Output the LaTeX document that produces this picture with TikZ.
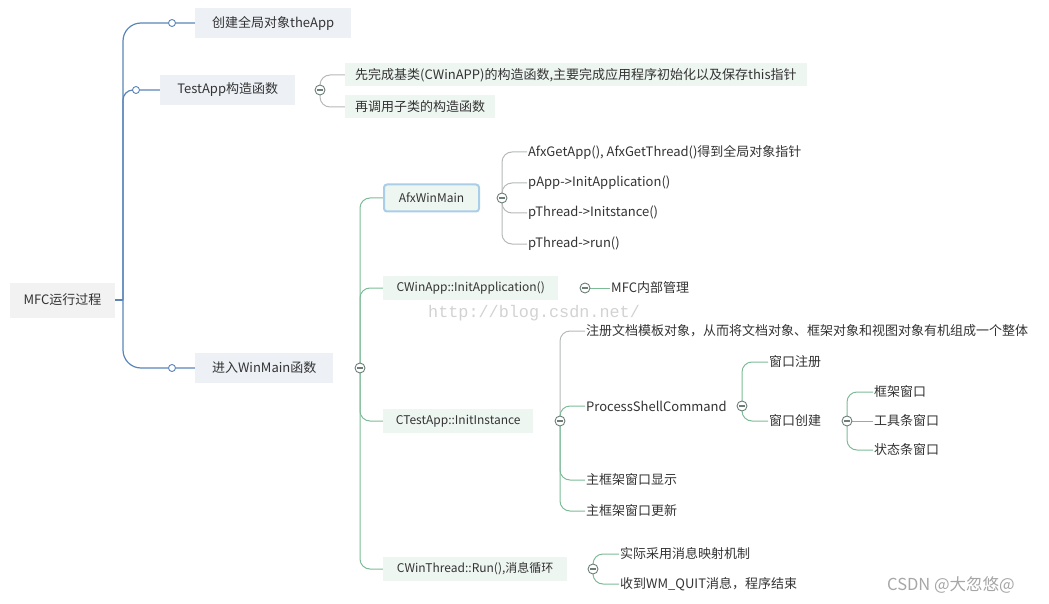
\documentclass[tikz,border=0pt]{standalone}
\usepackage{fontspec}
\setmainfont{Noto Sans CJK SC}
\newfontfamily\urlfont{Liberation Mono}
\usetikzlibrary{backgrounds}

\definecolor{trunkblue}{HTML}{5A85B8}
\definecolor{greenline}{HTML}{7DBB97}
\definecolor{grayline}{HTML}{B6B9B8}
\definecolor{folddark}{HTML}{6C7E76}
\definecolor{rootgray}{HTML}{F2F2F2}
\definecolor{topfill}{HTML}{EDF1F6}
\definecolor{subfill}{HTML}{EEF6F1}
\definecolor{afxborder}{HTML}{AACDE8}
\definecolor{textdark}{HTML}{333333}

\tikzset{
  txt/.style={text=textdark, font=\fontsize{13}{15}\selectfont},
  rootbox/.style={txt, fill=rootgray, minimum width=105pt, minimum height=35pt},
  topbox/.style={txt, anchor=west, fill=topfill, minimum height=30pt},
  subbox/.style={txt, anchor=west, fill=subfill, minimum height=24pt, font=\fontsize{12}{14}\selectfont},
  leaf/.style={txt, anchor=west, inner xsep=1pt, inner ysep=1pt},
  leafbox/.style={leaf, fill=subfill, inner xsep=10pt, minimum height=23pt},
  knob/.style={circle, draw=trunkblue, fill=white, line width=0.9pt, inner sep=0pt, minimum size=7pt},
  fold/.style={circle, draw=folddark, fill=white, line width=0.9pt, inner sep=0pt, minimum size=10pt,
    path picture={\draw[folddark, line width=1.2pt] (path picture bounding box.center) ++(-2.6pt,0) -- ++(5.2pt,0);}},
  branch/.style={rounded corners=10pt, line width=1pt},
}

\begin{document}
\begin{tikzpicture}[x=1pt, y=-1pt]
    \useasboundingbox (0,0) rectangle (1049,604);

    % Root and main branches
    \node[rootbox] (root) at (62.5,300) {MFC运行过程};
    \coordinate (rootj) at (123,300);
    \node[topbox, minimum width=156pt] (app) at (195,23) {创建全局对象theApp};
    \node[topbox, minimum width=135pt] (ctor) at (160,90) {TestApp构造函数};
    \node[topbox, minimum width=138pt] (win) at (195,368) {进入WinMain函数};
    \node[knob] (k1) at (172,23) {};
    \node[knob] (k2) at (136,90) {};
    \node[knob] (k3) at (172,368) {};

    % TestApp constructor
    \node[fold] (cctor) at (320,90) {};
    \node[leafbox] (base) at (345,75) {先完成基类(CWinAPP)的构造函数,主要完成应用程序初始化以及保存this指针};
    \node[leafbox] (child) at (345,107) {再调用子类的构造函数};

    % WinMain
    \node[fold] (cwin) at (360,368) {};
    \node[subbox, minimum width=95pt, draw=afxborder, line width=2pt, rounded corners=3pt, minimum height=27pt] (afx) at (383,198) {AfxWinMain};
    \node[subbox, minimum width=175pt] (initapp) at (383,288) {CWinApp::InitApplication()};
    \node[subbox, minimum width=150pt] (initinst) at (383,421) {CTestApp::InitInstance};
    \node[subbox, minimum width=184pt] (run) at (383,569) {CWinThread::Run(),消息循环};

    % AfxWinMain
    \node[fold] (cafx) at (502,198) {};
    \node[leaf] (getapp) at (527,152) {AfxGetApp(), AfxGetThread()得到全局对象指针};
    \node[leaf] (pinit) at (527,183) {pApp->InitApplication()};
    \node[leaf] (pinst) at (527,213) {pThread->Initstance()};
    \node[leaf] (prun) at (527,244) {pThread->run()};

    % InitApplication
    \node[fold] (capp) at (585,288) {};
    \node[leaf] (mfc) at (610,288) {MFC内部管理};
    \node[text=gray!35, font=\urlfont\fontsize{16.8}{18}\selectfont, anchor=west, inner sep=0pt] (url) at (428,313) {http://blog.csdn.net/};

    % InitInstance
    \node[fold] (cinst) at (560,421) {};
    \node[leaf] (tmpl) at (585,331) {注册文档模板对象，从而将文档对象、框架对象和视图对象有机组成一个整体};
    \node[leaf] (psc) at (585,406) {ProcessShellCommand};
    \node[leaf] (show) at (585,480) {主框架窗口显示};
    \node[leaf] (upd) at (585,511) {主框架窗口更新};

    \node[fold] (cpsc) at (742,406) {};
    \node[leaf] (reg) at (768,362) {窗口注册};
    \node[leaf] (create) at (768,421) {窗口创建};

    \node[fold] (ccreate) at (847,421) {};
    \node[leaf] (frame) at (873,392) {框架窗口};
    \node[leaf] (tool) at (873,421) {工具条窗口};
    \node[leaf] (status) at (873,450) {状态条窗口};

    % Run
    \node[fold] (crun) at (593,569) {};
    \node[leaf] (msgmap) at (619,554) {实际采用消息映射机制};
    \node[leaf] (quit) at (619,584) {收到WM\_QUIT消息，程序结束};

    \node[text=gray!70, font=\fontsize{16.5}{18}\selectfont, anchor=west, inner sep=0pt] (mark) at (887,585) {CSDN @大忽悠@};

    % Connectors
    \begin{scope}[on background layer]
      \draw[trunkblue, line width=1.2pt] (root.east) -- (rootj);
      \draw[trunkblue, line width=1.2pt, rounded corners=18pt] (rootj) |- (k1) -- (app.west);
      \draw[trunkblue, line width=1.2pt, rounded corners=10pt] (rootj) |- (k2) -- (ctor.west);
      \draw[trunkblue, line width=1.2pt, rounded corners=18pt] (rootj) |- (k3) -- (win.west);

      \draw[branch, grayline] (cctor.center) |- (base.west);
      \draw[branch, grayline] (cctor.center) |- (child.west);

      \draw[branch, greenline] (cwin.center) |- (afx.west);
      \draw[branch, greenline] (cwin.center) |- (initapp.west);
      \draw[branch, greenline] (cwin.center) |- (initinst.west);
      \draw[branch, greenline] (cwin.center) |- (run.west);

      \foreach \leafname in {getapp, pinit, pinst, prun}
        \draw[branch, grayline] (cafx.center) |- (\leafname.west);

      \draw[branch, greenline] (capp.center) -- (mfc.west);

      \draw[branch, grayline] (cinst.center) |- (tmpl.west);
      \foreach \leafname in {psc, show, upd}
        \draw[branch, greenline] (cinst.center) |- (\leafname.west);

      \foreach \leafname in {reg, create}
        \draw[branch, greenline] (cpsc.center) |- (\leafname.west);

      \draw[branch, greenline] (ccreate.center) |- (frame.west);
      \draw[branch, greenline] (ccreate.center) -- (tool.west);
      \draw[branch, greenline] (ccreate.center) |- (status.west);

      \foreach \leafname in {msgmap, quit}
        \draw[branch, greenline] (crun.center) |- (\leafname.west);
    \end{scope}
\end{tikzpicture}
\end{document}
